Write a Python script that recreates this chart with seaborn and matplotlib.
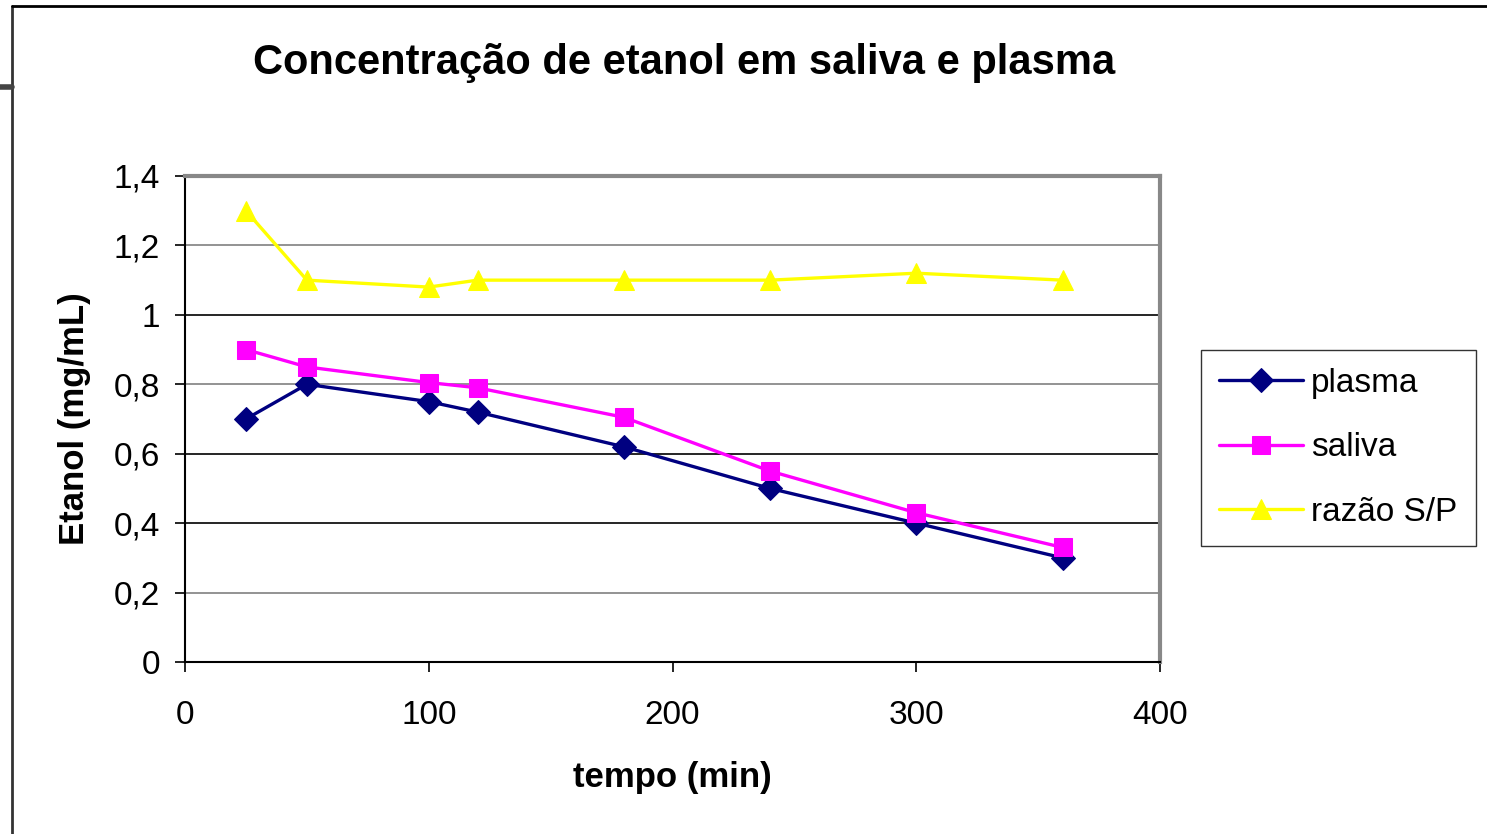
import matplotlib
matplotlib.use('Agg')
import matplotlib.pyplot as plt
import seaborn as sns
import pandas as pd

# tempo (min) and concentrations
tempo = [25, 50, 100, 120, 180, 240, 300, 360]
plasma = [0.70, 0.80, 0.75, 0.72, 0.62, 0.50, 0.40, 0.30]
saliva = [0.90, 0.85, 0.805, 0.79, 0.705, 0.55, 0.43, 0.33]
razao = [1.30, 1.10, 1.08, 1.10, 1.10, 1.10, 1.12, 1.10]

series_names = ['plasma', 'saliva', 'razão S/P']
series_colors = ['#000080', '#FF00FF', '#FFFF00']
series_markers = ['D', 's', '^']
series_sizes = [12.5, 12.5, 15]

y_ticks = [0, 0.2, 0.4, 0.6, 0.8, 1.0, 1.2, 1.4]
y_labels = ['0', '0,2', '0,4', '0,6', '0,8', '1', '1,2', '1,4']
x_ticks = [0, 100, 200, 300, 400]

sns.set_style('white')
plt.rcParams['font.family'] = ['Liberation Sans', 'DejaVu Sans']
plt.rcParams['text.color'] = 'black'
plt.rcParams['axes.labelcolor'] = 'black'
plt.rcParams['xtick.color'] = 'black'
plt.rcParams['ytick.color'] = 'black'

df = pd.DataFrame({'tempo': tempo, 'plasma': plasma, 'saliva': saliva, 'razão S/P': razao})

fig = plt.figure(figsize=(14.87, 8.34), dpi=100)
ax = fig.add_axes([185 / 1487, 1 - 662 / 834, (1160 - 185) / 1487, (662 - 176) / 834])

# gridlines (colours alternate in the original rendering)
grid_colors = {0.2: '#808080', 0.4: '#000000', 0.6: '#000000', 0.8: '#808080',
               1.0: '#000000', 1.2: '#808080'}
for yv, c in grid_colors.items():
    ax.axhline(yv, color=c, lw=1.2, zorder=1)

for name, col, mk, ms in zip(series_names, series_colors, series_markers, series_sizes):
    sns.lineplot(data=df, x='tempo', y=name, ax=ax, color=col, lw=2.4,
                 marker=mk, markersize=ms, markeredgecolor=col, label=name, zorder=3)

ax.set_xlim(0, 400)
ax.set_ylim(0, 1.4)
ax.set_xticks(x_ticks)
ax.set_xticklabels([str(v) for v in x_ticks], fontsize=24)
ax.set_yticks(y_ticks)
ax.set_yticklabels(y_labels, fontsize=24)
ax.tick_params(axis='both', direction='out', length=7, width=1.2, color='black',
               left=True, bottom=True)
ax.tick_params(axis='x', pad=20)
ax.tick_params(axis='y', pad=11)

for side in ['left', 'bottom']:
    ax.spines[side].set_color('black')
    ax.spines[side].set_linewidth(1.5)
for side in ['top', 'right']:
    ax.spines[side].set_color('#888888')
    ax.spines[side].set_linewidth(3)

ax.set_xlabel('tempo (min)', fontsize=25, fontweight='bold', labelpad=22)
ax.set_ylabel('Etanol (mg/mL)', fontsize=25, fontweight='bold', labelpad=16)

fig.text(684 / 1487, 1 - 63 / 834, 'Concentração de etanol em saliva e plasma', fontsize=30,
         fontweight='bold', ha='center', va='center')

leg = ax.legend(loc='center left', bbox_to_anchor=(1201 / 1487, 1 - 448 / 834),
                bbox_transform=fig.transFigure, fontsize=24, frameon=True,
                fancybox=False, edgecolor='black', handlelength=2.5,
                labelspacing=1.0, borderpad=0.55, handletextpad=0.25, borderaxespad=0)
leg.get_frame().set_linewidth(1.0)

# outer chart frame
fig.add_artist(plt.Line2D([12 / 1487, 12 / 1487], [0, 1 - 6 / 834], color='#333333',
                          lw=2, transform=fig.transFigure))
fig.add_artist(plt.Line2D([12 / 1487, 1], [1 - 6 / 834, 1 - 6 / 834], color='black',
                          lw=2, transform=fig.transFigure))
fig.add_artist(plt.Line2D([0, 12 / 1487], [1 - 87 / 834, 1 - 87 / 834], color='#444444',
                          lw=4, transform=fig.transFigure))

fig.savefig('out.png', dpi=100)
